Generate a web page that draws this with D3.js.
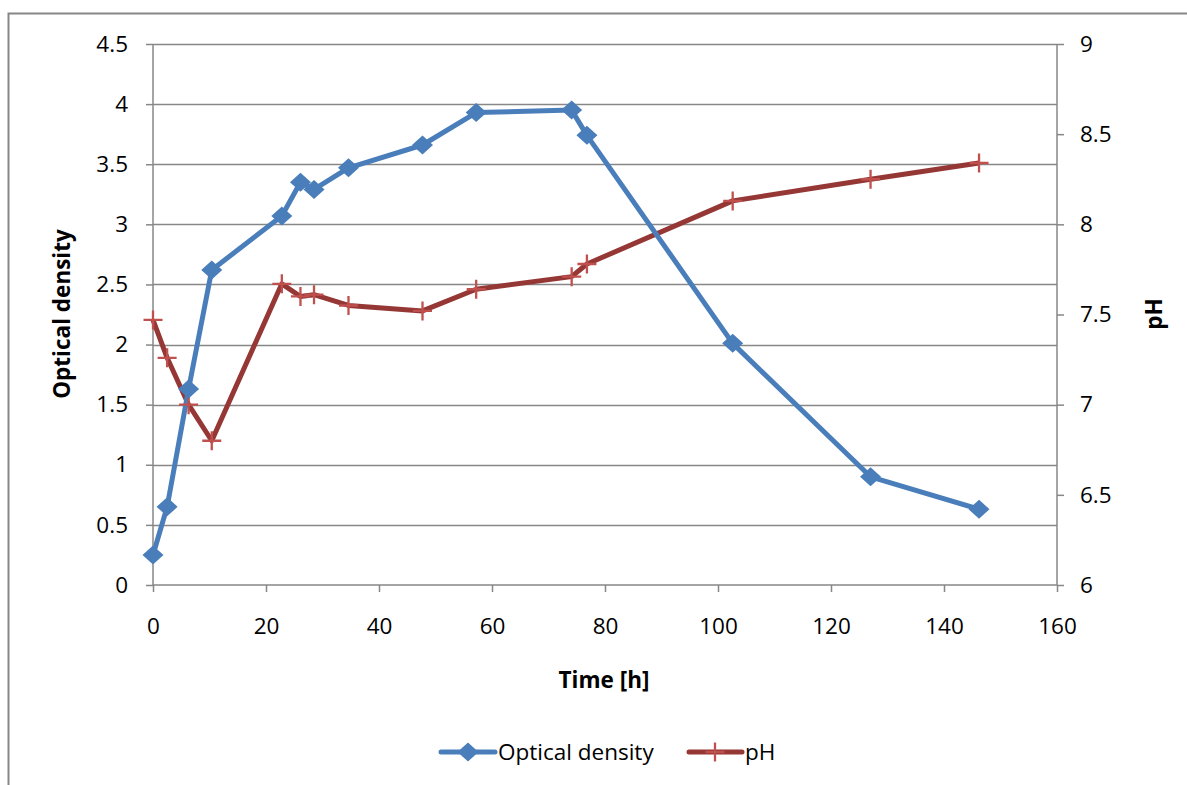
<!DOCTYPE html>
<html>
<head>
<meta charset="utf-8">
<script src="https://cdn.jsdelivr.net/npm/d3@7"></script>
<style>
  html, body { margin: 0; padding: 0; background: #fff; }
  svg { display: block; }
  text { font-family: "Open Sans", Lato, sans-serif; fill: #000; }
</style>
</head>
<body>
<svg id="chart" width="1187" height="785"></svg>
<script>
// ---- data ----
const timeH = [0, 2.5, 6.3, 10.4, 22.8, 26.1, 28.5, 34.6, 47.7, 57.2, 74.1, 76.8, 102.6, 127.0, 146.2];
const opticalDensity = [0.25, 0.65, 1.63, 2.62, 3.07, 3.35, 3.29, 3.47, 3.66, 3.93, 3.95, 3.74, 2.01, 0.90, 0.63];
const pHValues = [7.47, 7.26, 7.00, 6.80, 7.67, 7.60, 7.61, 7.55, 7.52, 7.64, 7.71, 7.78, 8.13, 8.25, 8.34];
const xTicks = [0, 20, 40, 60, 80, 100, 120, 140, 160];
const odTicks = [0, 0.5, 1, 1.5, 2, 2.5, 3, 3.5, 4, 4.5];
const phTicks = [6, 6.5, 7, 7.5, 8, 8.5, 9];
const seriesNames = ["Optical density", "pH"];

// ---- layout ----
const FONT = "'Open Sans', Lato, sans-serif";
const FS = 22.5;
const svg = d3.select("#chart");
const L = 153, R = 1057, T = 44, B = 585;
const blueLine = "#4A7EBB", blueFill = "#4A7EBB";
const redLine = "#953735", redMarker = "#C0504D";
const gridCol = "#878787";

// outer frame
svg.append("rect").attr("x", 8.5).attr("y", 13.5).attr("width", 1300).attr("height", 900)
  .attr("fill", "none").attr("stroke", "#878787").attr("stroke-width", 2);

const x = d3.scaleLinear().domain([0, 160]).range([L, R]);
const yL = d3.scaleLinear().domain([0, 4.5]).range([B, T]);
const yR = d3.scaleLinear().domain([6, 9]).range([B, T]);

// gridlines
svg.append("g").selectAll("line").data(odTicks.slice(1)).join("line")
  .attr("x1", L).attr("x2", R)
  .attr("y1", d => Math.round(yL(d)) + 0.5).attr("y2", d => Math.round(yL(d)) + 0.5)
  .attr("stroke", gridCol).attr("stroke-width", 1.5);

// left axis
const axL = d3.axisLeft(yL).tickValues(odTicks).tickSize(7).tickPadding(18)
  .tickFormat(d3.format("~g"));
const gL = svg.append("g").attr("transform", `translate(${L},0)`).call(axL);

// right axis
const axR = d3.axisRight(yR).tickValues(phTicks).tickSize(7).tickPadding(16)
  .tickFormat(d3.format("~g"));
const gR = svg.append("g").attr("transform", `translate(${R},0)`).call(axR);

// bottom axis
const axB = d3.axisBottom(x).tickValues(xTicks).tickSize(7).tickPadding(26)
  .tickFormat(d3.format("~g"));
const gB = svg.append("g").attr("transform", `translate(0,${B})`).call(axB);

[gL, gR, gB].forEach(g => {
  g.select(".domain").attr("stroke", gridCol).attr("stroke-width", 1.5);
  g.selectAll(".tick line").attr("stroke", gridCol).attr("stroke-width", 1.5);
  g.selectAll(".tick text").attr("font-size", FS).attr("font-family", FONT).attr("fill", "#000");
});
gL.select(".domain").attr("d", `M0,${B}V${T}`);
gR.select(".domain").attr("d", `M0,${B}V${T}`);
gB.select(".domain").attr("d", `M${L},0H${R}`);

// axis titles
svg.append("text").attr("x", 604).attr("y", 688).attr("text-anchor", "middle")
  .attr("font-size", FS).attr("font-weight", "bold").text("Time [h]");
svg.append("text").attr("transform", "translate(70,314) rotate(-90)").attr("text-anchor", "middle")
  .attr("font-size", FS).attr("font-weight", "bold").text("Optical density");
svg.append("text").attr("transform", "translate(1162,314) rotate(-90)").attr("text-anchor", "middle")
  .attr("font-size", FS).attr("font-weight", "bold").text("pH");

// series
const odData = timeH.map((t, i) => ({ t, v: opticalDensity[i] }));
const phData = timeH.map((t, i) => ({ t, v: pHValues[i] }));

svg.append("path").datum(phData)
  .attr("d", d3.line().x(d => x(d.t)).y(d => yR(d.v)))
  .attr("fill", "none").attr("stroke", redLine).attr("stroke-width", 5).attr("stroke-linejoin", "round");
svg.append("path").datum(odData)
  .attr("d", d3.line().x(d => x(d.t)).y(d => yL(d.v)))
  .attr("fill", "none").attr("stroke", blueLine).attr("stroke-width", 5).attr("stroke-linejoin", "round");

const diamond = d3.symbol().type(d3.symbolSquare).size(200);
function plusPath(s) { return `M${-s},0H${s}M0,${-s}V${s}`; }

svg.append("g").selectAll("path").data(phData).join("path")
  .attr("transform", d => `translate(${x(d.t)},${yR(d.v)})`)
  .attr("d", plusPath(9.5)).attr("stroke", redMarker).attr("stroke-width", 2.3).attr("fill", "none");
svg.append("g").selectAll("path").data(odData).join("path")
  .attr("transform", d => `translate(${x(d.t)},${yL(d.v)}) scale(1.05,0.95) rotate(45)`)
  .attr("d", diamond).attr("fill", blueFill);

// legend
const lg = svg.append("g");
lg.append("line").attr("x1", 441).attr("x2", 495).attr("y1", 752).attr("y2", 752)
  .attr("stroke", blueLine).attr("stroke-width", 5).attr("stroke-linecap", "round");
lg.append("path").attr("transform", "translate(468,752) scale(1.05,0.95) rotate(45)").attr("d", diamond).attr("fill", blueFill);
lg.append("text").attr("x", 498).attr("y", 760).attr("font-size", FS).text(seriesNames[0]);
lg.append("line").attr("x1", 689).attr("x2", 742).attr("y1", 752).attr("y2", 752)
  .attr("stroke", redLine).attr("stroke-width", 5).attr("stroke-linecap", "round");
lg.append("path").attr("transform", "translate(715,752)").attr("d", plusPath(9.5))
  .attr("stroke", redMarker).attr("stroke-width", 2.3);
lg.append("text").attr("x", 745).attr("y", 760).attr("font-size", FS).text(seriesNames[1]);
</script>
</body>
</html>
